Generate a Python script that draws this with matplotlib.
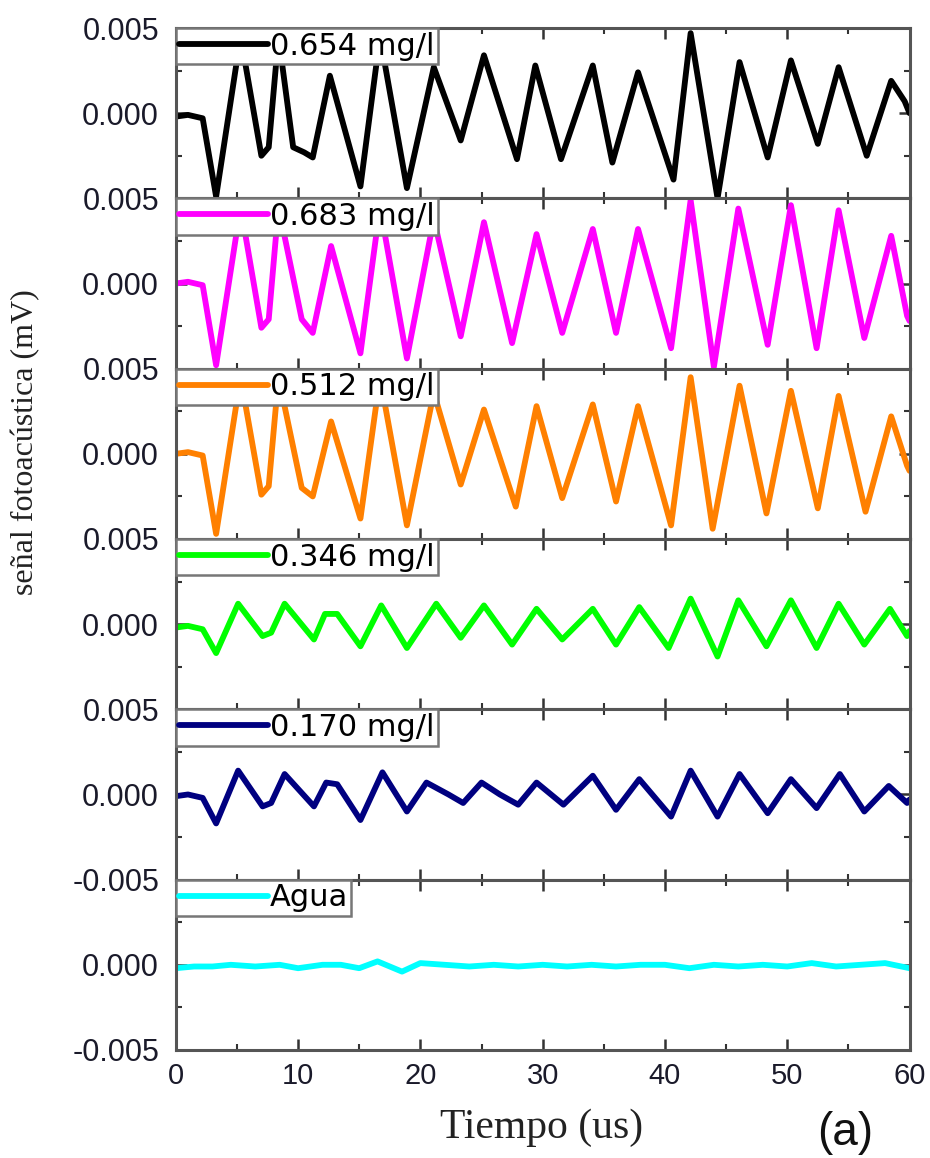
import matplotlib
matplotlib.use("Agg")
import matplotlib.pyplot as plt
from matplotlib.ticker import FixedLocator, FixedFormatter, MultipleLocator

plt.rcParams['font.family'] = ['Liberation Sans', 'DejaVu Sans']

# photoacoustic signal traces, one per concentration (time in us, signal in mV)
labels = ["0.654 mg/l", "0.683 mg/l", "0.512 mg/l", "0.346 mg/l", "0.170 mg/l", "Agua"]
colors = ["#000000", "#ff00ff", "#ff8000", "#00ff00", "#000080", "#00ffff"]

t_654 = [0, 1.0, 2.2, 3.3, 5.3, 7.0, 7.6, 8.4, 9.6, 10.5, 11.2, 12.6, 15.1, 16.7, 18.9,
         21.1, 23.3, 25.2, 27.9, 29.4, 31.5, 34.1, 35.7, 37.8, 40.7, 42.1, 44.3, 46.1,
         48.4, 50.3, 52.5, 54.2, 56.5, 58.5, 59.6, 60]
v_654 = [-0.0002, -0.0001, -0.0003, -0.0049, 0.0045, -0.0025, -0.0020, 0.0045, -0.0020,
         -0.0023, -0.0026, 0.0022, -0.0043, 0.0045, -0.0044, 0.0027, -0.0016, 0.0034,
         -0.0027, 0.0028, -0.0027, 0.0028, -0.0029, 0.0024, -0.0039, 0.0047, -0.0050,
         0.0030, -0.0026, 0.0031, -0.0018, 0.0027, -0.0025, 0.0019, 0.0007, 0.0]

t_683 = [0, 1.0, 2.2, 3.3, 5.3, 7.0, 7.6, 8.4, 10.3, 11.2, 12.7, 15.1, 16.7, 18.9, 21.1,
         23.3, 25.2, 27.5, 29.5, 31.6, 34.1, 36.0, 37.8, 40.5, 42.1, 44.0, 46.0, 48.4,
         50.3, 52.4, 54.2, 56.3, 58.5, 59.8, 60]
v_683 = [0.0, 0.0001, -0.0001, -0.0048, 0.0045, -0.0026, -0.0021, 0.0045, -0.0021,
         -0.0029, 0.0022, -0.0041, 0.0045, -0.0044, 0.0038, -0.0031, 0.0036, -0.0035,
         0.0029, -0.0029, 0.0032, -0.0029, 0.0032, -0.0038, 0.0049, -0.0049, 0.0044,
         -0.0036, 0.0046, -0.0038, 0.0043, -0.0032, 0.0028, -0.0019, -0.0022]

t_512 = [0, 1.0, 2.2, 3.3, 5.3, 7.0, 7.6, 8.4, 10.3, 11.2, 12.7, 15.1, 16.7, 18.9, 21.1,
         23.3, 25.2, 27.8, 29.5, 31.6, 34.1, 36.0, 37.8, 40.5, 42.1, 43.9, 46.1, 48.3,
         50.3, 52.5, 54.2, 56.4, 58.5, 59.8, 60]
v_512 = [0.0, 0.0001, -0.0001, -0.0047, 0.0045, -0.0024, -0.0019, 0.0045, -0.0020,
         -0.0025, 0.0019, -0.0038, 0.0045, -0.0042, 0.0036, -0.0018, 0.0026, -0.0031,
         0.0028, -0.0026, 0.0029, -0.0028, 0.0028, -0.0042, 0.0045, -0.0044, 0.0040,
         -0.0035, 0.0037, -0.0032, 0.0034, -0.0034, 0.0022, -0.0007, -0.0010]

t_346 = [0, 1.0, 2.2, 3.3, 5.1, 7.1, 7.8, 8.9, 11.3, 12.2, 13.2, 15.1, 16.8, 18.9, 21.3,
         23.3, 25.2, 27.5, 29.5, 31.6, 34.1, 36.0, 37.9, 40.3, 42.1, 44.3, 46.0, 48.3,
         50.3, 52.4, 54.2, 56.3, 58.4, 59.8, 60]
v_346 = [-0.0002, -0.0001, -0.0003, -0.0017, 0.0012, -0.0007, -0.0005, 0.0012, -0.0009,
         0.0006, 0.0006, -0.0013, 0.0011, -0.0014, 0.0012, -0.0008, 0.0011, -0.0012,
         0.0009, -0.0009, 0.0009, -0.0012, 0.0010, -0.0014, 0.0015, -0.0019, 0.0014,
         -0.0013, 0.0014, -0.0014, 0.0012, -0.0012, 0.0009, -0.0007, -0.0004]

t_170 = [0, 1.0, 2.2, 3.3, 5.1, 7.1, 7.8, 8.9, 11.3, 12.3, 13.2, 15.1, 16.9, 18.9, 20.5,
         22.3, 23.5, 25.0, 26.5, 28.0, 29.5, 31.7, 34.1, 36.0, 37.9, 40.5, 42.1, 44.3,
         46.1, 48.4, 50.3, 52.4, 54.3, 56.3, 58.3, 59.8, 60]
v_170 = [-0.0001, 0.0, -0.0002, -0.0017, 0.0014, -0.0007, -0.0005, 0.0012, -0.0007,
         0.0007, 0.0006, -0.0015, 0.0013, -0.0010, 0.0007, 0.0, -0.0005, 0.0007, 0.0,
         -0.0006, 0.0007, -0.0006, 0.0011, -0.0009, 0.0009, -0.0013, 0.0014, -0.0013,
         0.0012, -0.0011, 0.0009, -0.0008, 0.0012, -0.0010, 0.0005, -0.0005, -0.0003]

t_agua = [0, 1.5, 3.0, 4.5, 6.5, 8.5, 10.0, 12.0, 13.5, 15.0, 16.5, 18.5, 20.0, 22.0, 24.0,
          26.0, 28.0, 30.0, 32.0, 34.0, 36.0, 38.0, 40.0, 42.0, 44.0, 46.0, 48.0, 50.0,
          52.0, 54.0, 56.0, 58.0, 60.0]
v_agua = [-0.0002, -0.0001, -0.0001, 0.0, -0.0001, 0.0, -0.0002, 0.0, 0.0, -0.0002,
          0.0002, -0.0004, 0.0001, 0.0, -0.0001, 0.0, -0.0001, 0.0, -0.0001, 0.0, -0.0001,
          0.0, 0.0, -0.0002, 0.0, -0.0001, 0.0, -0.0001, 0.0001, -0.0001, 0.0, 0.0001,
          -0.0002]

series = [(t_654, v_654), (t_683, v_683), (t_512, v_512),
          (t_346, v_346), (t_170, v_170), (t_agua, v_agua)]

# y tick texts per panel; shared borders only get one label
ytick_text = [["", "0.000", "0.005"],
              ["", "0.000", "0.005"],
              ["", "0.000", "0.005"],
              ["", "0.000", "0.005"],
              ["-0.005", "0.000", "0.005"],
              ["-0.005", "0.000", ""]]

fig = plt.figure(figsize=(9.3, 11.58), dpi=100)
gs = fig.add_gridspec(6, 1, left=0.189, right=0.978, top=0.9758, bottom=0.0933, hspace=0)

spine_col = "#555555"
for i, (t, v) in enumerate(series):
    ax = fig.add_subplot(gs[i])
    ax.plot(t, v, color=colors[i], lw=4.2, label=labels[i],
            solid_joinstyle="round", solid_capstyle="round")
    ax.set_xlim(0, 60)
    ax.set_ylim(-0.005, 0.005)
    ax.yaxis.set_major_locator(FixedLocator([-0.005, 0.0, 0.005]))
    ax.yaxis.set_major_formatter(FixedFormatter(ytick_text[i]))
    ax.yaxis.set_minor_locator(FixedLocator([-0.0025, 0.0025]))
    ax.xaxis.set_major_locator(MultipleLocator(10))
    ax.xaxis.set_minor_locator(MultipleLocator(5))
    ax.tick_params(which="both", direction="in", top=True, right=True,
                   color="#333333", labelsize=22, labelcolor="#1a1a2a")
    ax.tick_params(axis="y", pad=12)
    ax.tick_params(which="major", length=8, width=1.8)
    ax.tick_params(which="minor", length=4, width=1.5)
    if i < 5:
        ax.tick_params(labelbottom=False)
    else:
        ax.tick_params(axis="x", labelsize=21, pad=9)
    for sp in ax.spines.values():
        sp.set_color(spine_col)
        sp.set_linewidth(2.2)
    leg = ax.legend(loc="upper left", borderaxespad=0,
                    prop={"family": "DejaVu Sans", "size": 22},
                    handlelength=2.9, handletextpad=0.05, borderpad=0.12,
                    fancybox=False, framealpha=1)
    leg.get_frame().set_edgecolor("#777777")
    leg.get_frame().set_linewidth(1.8)
    for line in leg.get_lines():
        line.set_linewidth(4.2)

fig.text(0.028, 0.618, "señal fotoacústica (mV)", rotation=90, ha="center", va="center",
         fontsize=23, family=["Liberation Serif", "DejaVu Serif"], color="#222222")
fig.text(0.582, 0.026, "Tiempo (us)", ha="center", va="center",
         fontsize=30, family=["Liberation Serif", "DejaVu Serif"], color="#222222")
fig.text(0.909, 0.022, "(a)", ha="center", va="center", fontsize=33, color="#111111")

fig.savefig("out.png", dpi=100)
